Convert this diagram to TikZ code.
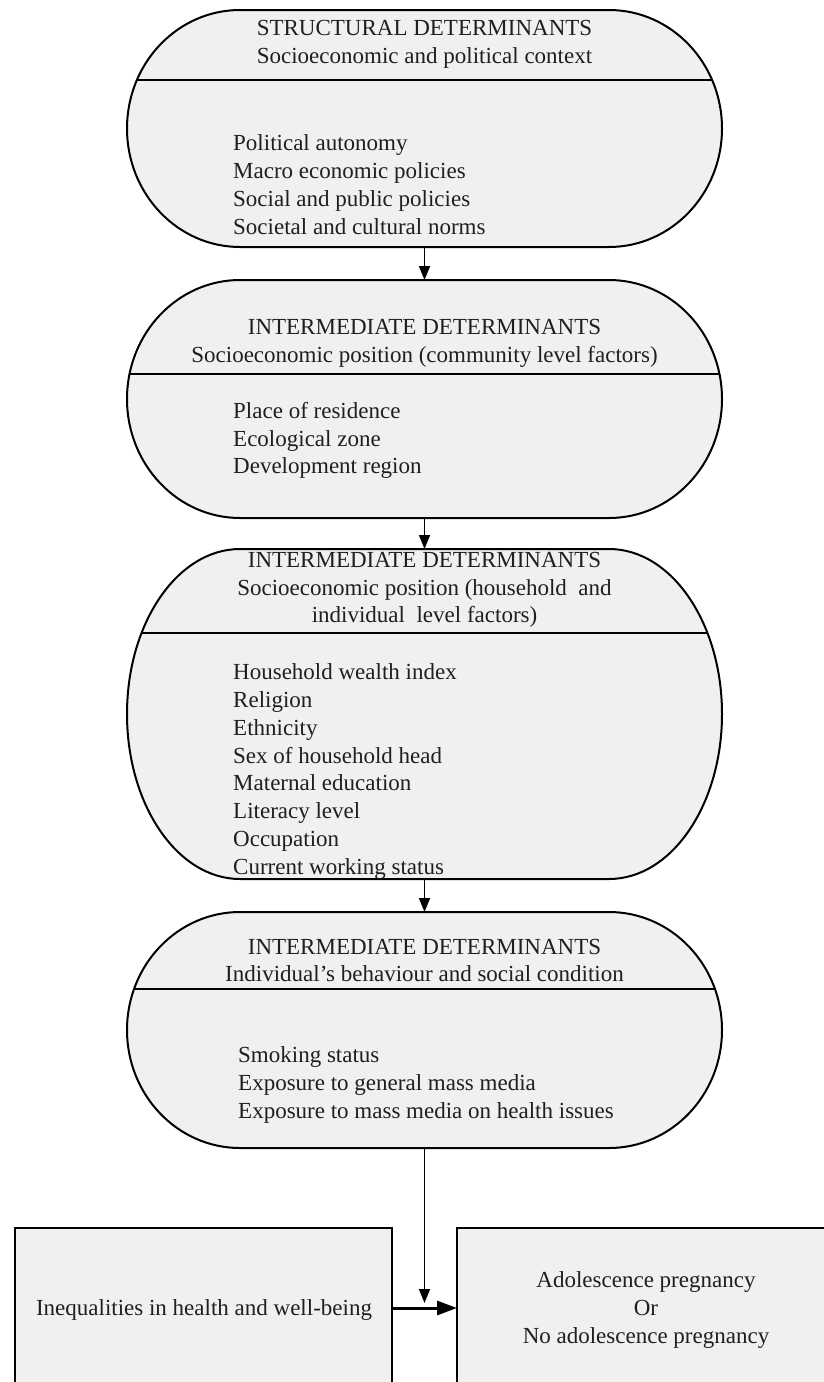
\documentclass[tikz,border=0pt]{standalone}
\usepackage{fontspec}
\setmainfont{Liberation Serif}
\usetikzlibrary{arrows.meta}
\newcommand\stadiumpath[3]{([xshift=#2]#1.north west) -- ([xshift=-#2]#1.north east) arc[start angle=90, end angle=-90, x radius=#2, y radius=#3] -- ([xshift=#2]#1.south west) arc[start angle=270, end angle=90, x radius=#2, y radius=#3] -- cycle}
\tikzset{
  frame/.style={inner sep=0pt, outer sep=0pt, minimum width=595pt},
  stadfill/.style={fill=gray!12},
  stadshadow/.style={fill=gray!50, opacity=0.5},
  stadline/.style={line width=2pt, black},
  divline/.style={line width=2.2pt, black},
  conn/.style={line width=1.6pt, -{Triangle[width=11pt,length=14pt]}},
  bigconn/.style={line width=3pt, -{Triangle[width=14pt,length=20pt]}},
  txt/.style={font=\fontsize{23}{27.8}\selectfont, inner sep=0pt, text=black!88},
  title/.style={txt, align=center},
  items/.style={txt, align=left, anchor=west},
  outbox/.style={draw, line width=2pt, fill=gray!12, inner sep=0pt, outer sep=0pt, minimum height=160pt}
}
\begin{document}
\begin{tikzpicture}[x=1pt,y=-1pt]
\clip (0,0) rectangle (824,1382);
\fill[white] (0,0) rectangle (824,1382);

% frames of the four rounded shapes
\node[frame, minimum height=237pt] (s1) at (424.5,128.5) {};
\node[frame, minimum height=238pt] (s2) at (424.5,399) {};
\node[frame, minimum height=330pt] (s3) at (424.5,714) {};
\node[frame, minimum height=236pt] (s4) at (424.5,1030) {};
\coordinate (d1) at (424.5,80);
\coordinate (d2) at (424.5,374);
\coordinate (d3) at (424.5,633);
\coordinate (d4) at (424.5,989);

% shape 1
\fill[stadshadow, xshift=2.5pt, yshift=-2.5pt] \stadiumpath{s1}{113pt}{118.5pt};
\fill[stadfill] \stadiumpath{s1}{113pt}{118.5pt};
\begin{scope}\clip \stadiumpath{s1}{113pt}{118.5pt};
\draw[divline] (s1.west |- d1) -- (s1.east |- d1);\end{scope}
\draw[stadline] \stadiumpath{s1}{113pt}{118.5pt};

% shape 2
\fill[stadshadow, xshift=2.5pt, yshift=-2.5pt] \stadiumpath{s2}{113pt}{119pt};
\fill[stadfill] \stadiumpath{s2}{113pt}{119pt};
\begin{scope}\clip \stadiumpath{s2}{113pt}{119pt};
\draw[divline] (s2.west |- d2) -- (s2.east |- d2);\end{scope}
\draw[stadline] \stadiumpath{s2}{113pt}{119pt};

% shape 3
\fill[stadshadow, xshift=2.5pt, yshift=-2.5pt] \stadiumpath{s3}{113pt}{165pt};
\fill[stadfill] \stadiumpath{s3}{113pt}{165pt};
\begin{scope}\clip \stadiumpath{s3}{113pt}{165pt};
\draw[divline] (s3.west |- d3) -- (s3.east |- d3);\end{scope}
\draw[stadline] \stadiumpath{s3}{113pt}{165pt};

% shape 4
\fill[stadshadow, xshift=2.5pt, yshift=-2.5pt] \stadiumpath{s4}{113pt}{118pt};
\fill[stadfill] \stadiumpath{s4}{113pt}{118pt};
\begin{scope}\clip \stadiumpath{s4}{113pt}{118pt};
\draw[divline] (s4.west |- d4) -- (s4.east |- d4);\end{scope}
\draw[stadline] \stadiumpath{s4}{113pt}{118pt};

% texts
\node[title] (t1) at (424.5,44.5) {STRUCTURAL DETERMINANTS\\Socioeconomic and political context};
\node[items] (i1) at (233,184.5) {Political autonomy\\Macro economic policies\\Social and public policies\\Societal and cultural norms};

\node[title] (t2) at (424.5,343) {INTERMEDIATE DETERMINANTS\\Socioeconomic position (community level factors)};
\node[items] (i2) at (233,440.5) {Place of residence\\Ecological zone\\Development region};

\node[title] (t3) at (424.5,590) {INTERMEDIATE DETERMINANTS\\Socioeconomic position (household\ \ and\\individual\ \ level factors)};
\node[items] (i3) at (233,771.5) {Household wealth index\\Religion\\Ethnicity\\Sex of household head\\Maternal education\\Literacy level\\Occupation\\Current working status};

\node[title] (t4) at (424.5,960.5) {INTERMEDIATE DETERMINANTS\\Individual’s behaviour and social condition};
\node[items] (i4) at (238,1085) {Smoking status\\Exposure to general mass media\\Exposure to mass media on health issues};

% bottom boxes
\node[outbox, minimum width=377pt] (lb) at (203.5,1308) {};
\node[outbox, minimum width=383pt] (rb) at (648.5,1308) {};
\node[title] (lt) at (204,1310) {Inequalities in health and well-being};
\node[title] (rt) at (646,1310) {Adolescence pregnancy\\Or\\No adolescence pregnancy};

% connectors
\coordinate (j) at (424.5,1303);
\draw[conn] (s1.south) -- (s2.north);
\draw[conn] (s2.south) -- (s3.north);
\draw[conn] (s3.south) -- (s4.north);
\draw[conn] (s4.south) -- (j);
\draw[bigconn] (lb.east) -- (rb.west);
\end{tikzpicture}
\end{document}
